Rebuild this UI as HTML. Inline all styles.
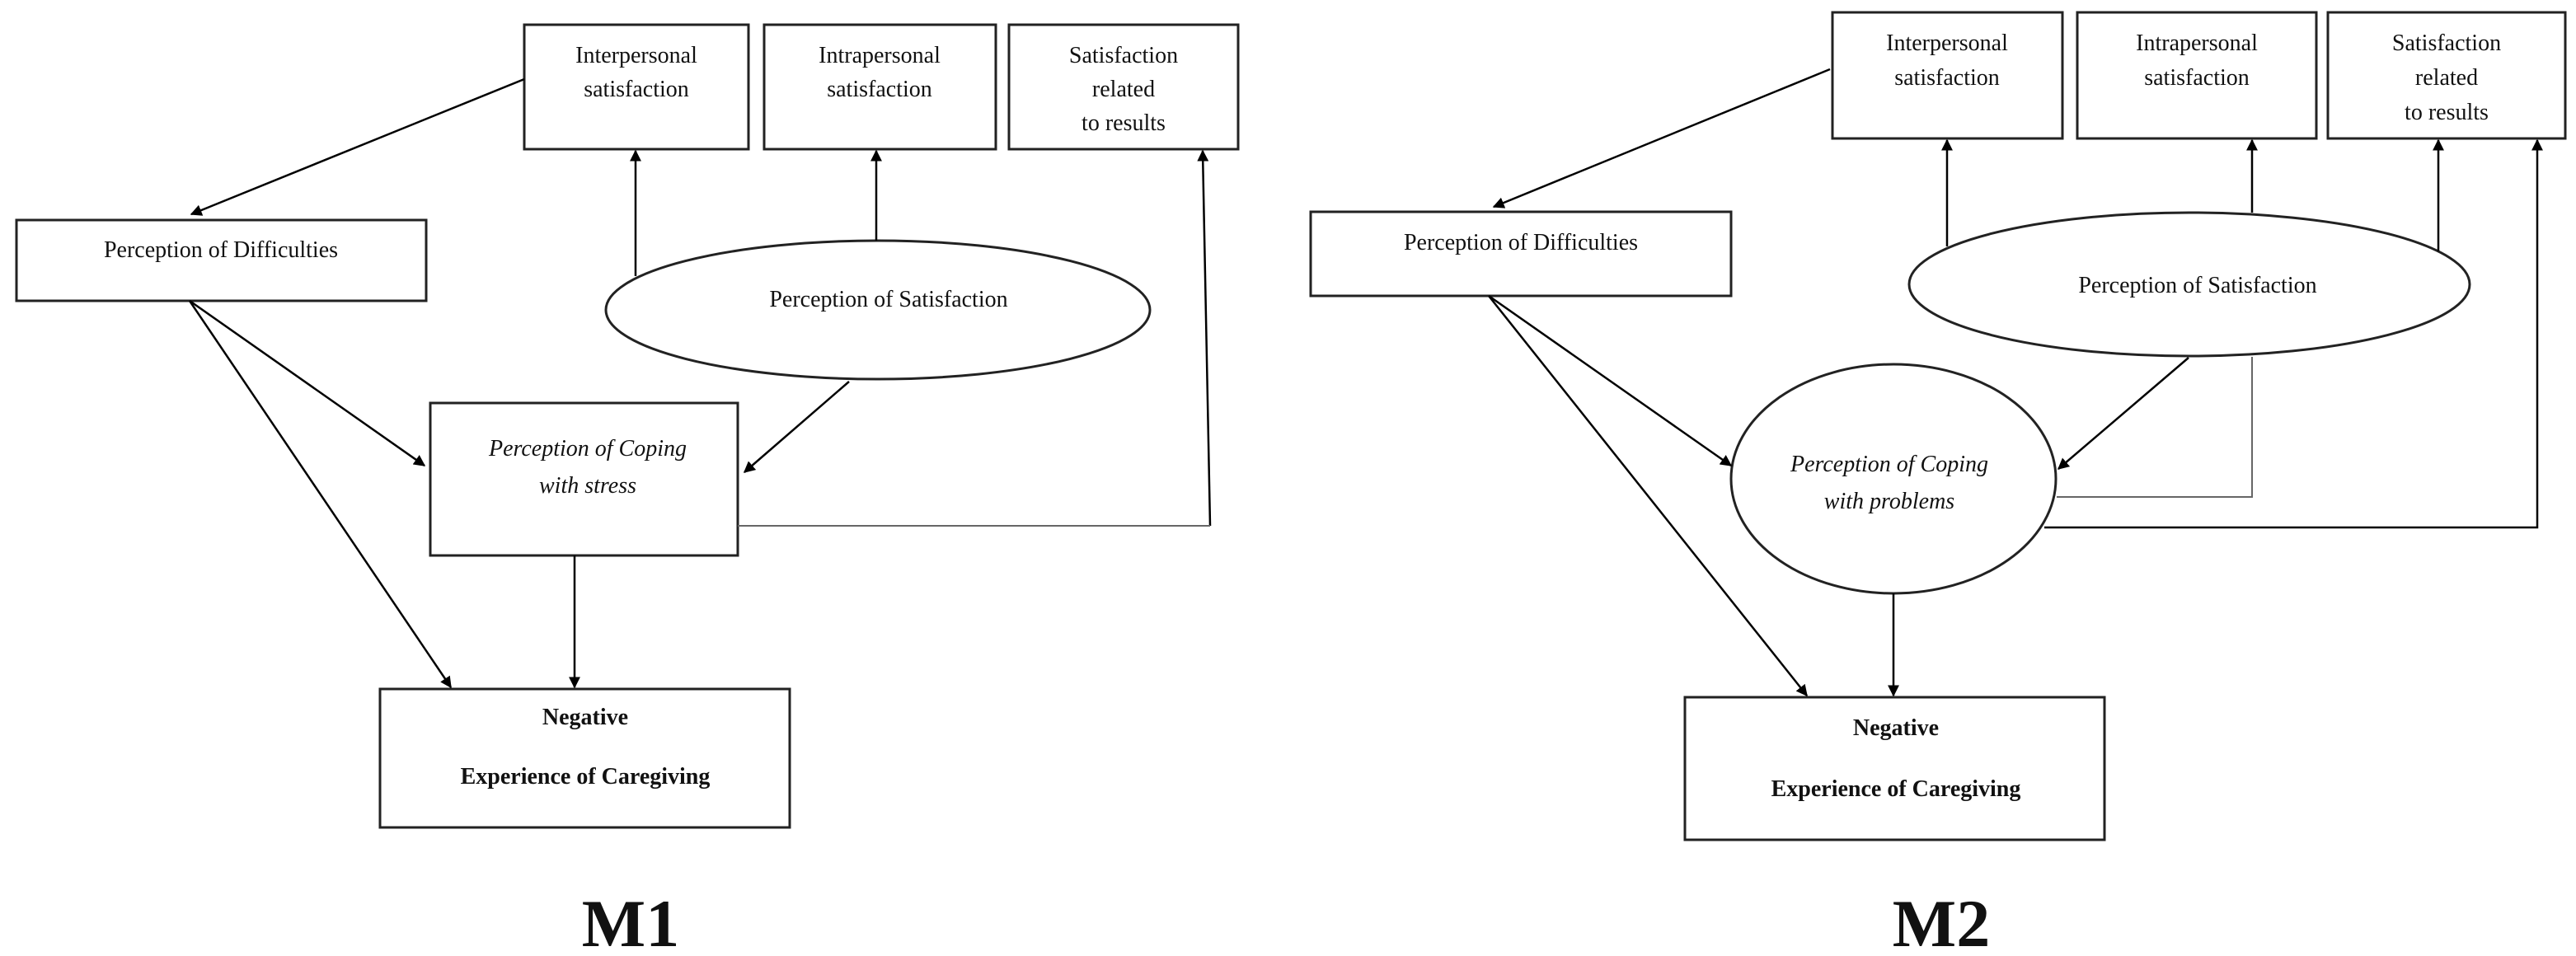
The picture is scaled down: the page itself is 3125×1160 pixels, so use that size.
<!DOCTYPE html>
<html><head><meta charset="utf-8"><style>
html,body{margin:0;padding:0;background:#fff;}
svg{display:block}
text{font-family:"Liberation Serif",serif;font-size:28px;fill:#111;}
</style></head><body>
<svg width="3125" height="1160" viewBox="0 0 3125 1160" xmlns="http://www.w3.org/2000/svg">
<defs>
<marker id="a" viewBox="0 0 10 10" refX="9" refY="5" markerWidth="14" markerHeight="14" markerUnits="userSpaceOnUse" orient="auto"><path d="M0,0 L10,5 L0,10 z" fill="#000"/></marker>
</defs>
<g fill="none" stroke="#222" stroke-width="3">
<!-- M1 -->
<rect x="636" y="30" width="272" height="151"/>
<rect x="927" y="30" width="281" height="151"/>
<rect x="1224" y="30" width="278" height="151"/>
<rect x="20" y="267" width="497" height="98"/>
<ellipse cx="1065" cy="376" rx="330" ry="84"/>
<rect x="522" y="489" width="373" height="185"/>
<rect x="461" y="836" width="497" height="168"/>
<!-- M2 -->
<rect x="2223" y="15" width="279" height="153"/>
<rect x="2520" y="15" width="290" height="153"/>
<rect x="2824" y="15" width="288" height="153"/>
<rect x="1590" y="257" width="510" height="102"/>
<ellipse cx="2656" cy="345" rx="340" ry="87"/>
<ellipse cx="2297" cy="581" rx="197" ry="139"/>
<rect x="2044" y="846" width="509" height="173"/>
</g>
<g fill="none" stroke="#000" stroke-width="2.5" marker-end="url(#a)">
<!-- M1 arrows -->
<line x1="636" y1="96" x2="232" y2="260"/>
<line x1="771" y1="335" x2="771" y2="183"/>
<line x1="1063" y1="292" x2="1063" y2="183"/>
<line x1="230" y1="365" x2="515" y2="565"/>
<line x1="230" y1="365" x2="547" y2="834"/>
<line x1="1030" y1="463" x2="903" y2="573"/>
<line x1="697" y1="674" x2="697" y2="834"/>
<line x1="1468" y1="638" x2="1459" y2="183"/>
<!-- M2 arrows -->
<line x1="2220" y1="84" x2="1812" y2="251"/>
<line x1="2362" y1="299" x2="2362" y2="170"/>
<line x1="2732" y1="258" x2="2732" y2="170"/>
<line x1="2958" y1="305" x2="2958" y2="170"/>
<polyline points="2480,640 3078,640 3078,170"/>
<line x1="1806" y1="359" x2="2100" y2="565"/>
<line x1="1806" y1="359" x2="2192" y2="844"/>
<line x1="2655" y1="434" x2="2497" y2="569"/>
<line x1="2297" y1="720" x2="2297" y2="844"/>
</g>
<g fill="none" stroke="#666" stroke-width="2">
<line x1="895" y1="638" x2="1468" y2="638"/>
<polyline points="2732,433 2732,603 2495,603"/>
</g>
<g text-anchor="middle">
<text x="772" y="76">Interpersonal</text>
<text x="772" y="117">satisfaction</text>
<text x="1067" y="76">Intrapersonal</text>
<text x="1067" y="117">satisfaction</text>
<text x="1363" y="76">Satisfaction</text>
<text x="1363" y="117">related</text>
<text x="1363" y="158">to results</text>
<text x="268" y="312">Perception of Difficulties</text>
<text x="1078" y="372">Perception of Satisfaction</text>
<text x="713" y="553" font-style="italic">Perception of Coping</text>
<text x="713" y="598" font-style="italic">with stress</text>
<text x="710" y="879" font-weight="bold">Negative</text>
<text x="710" y="951" font-weight="bold">Experience of Caregiving</text>
<text x="765" y="1148" style="font-size:82px;font-weight:bold">M1</text>

<text x="2362" y="61">Interpersonal</text>
<text x="2362" y="103">satisfaction</text>
<text x="2665" y="61">Intrapersonal</text>
<text x="2665" y="103">satisfaction</text>
<text x="2968" y="61">Satisfaction</text>
<text x="2968" y="103">related</text>
<text x="2968" y="145">to results</text>
<text x="1845" y="303">Perception of Difficulties</text>
<text x="2666" y="355">Perception of Satisfaction</text>
<text x="2292" y="572" font-style="italic">Perception of Coping</text>
<text x="2292" y="617" font-style="italic">with problems</text>
<text x="2300" y="892" font-weight="bold">Negative</text>
<text x="2300" y="966" font-weight="bold">Experience of Caregiving</text>
<text x="2355" y="1148" style="font-size:82px;font-weight:bold">M2</text>
</g>
</svg>
</body></html>
